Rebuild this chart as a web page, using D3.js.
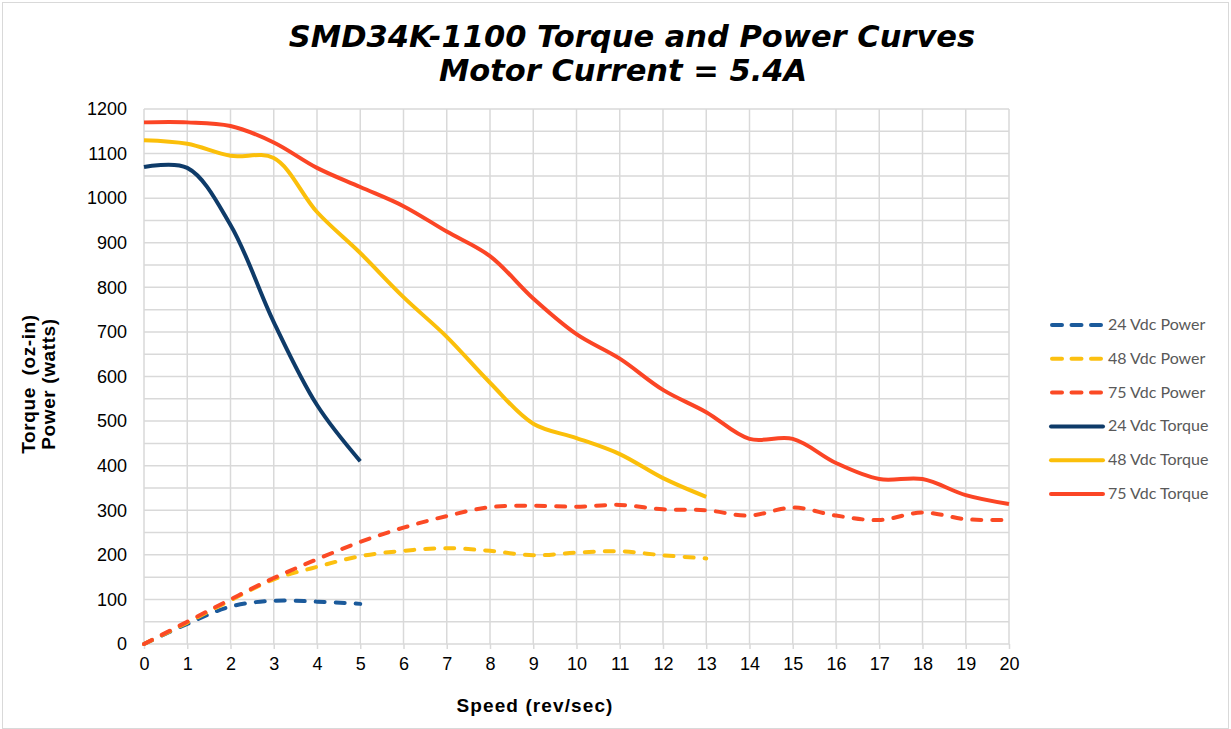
<!DOCTYPE html>
<html>
<head>
<meta charset="utf-8">
<script src="https://cdn.jsdelivr.net/npm/d3@7"></script>
<style>
body{margin:0;background:#fff;}
svg{display:block;}
</style>
</head>
<body>
<svg width="1231" height="729"></svg>
<script>
// speeds (rev/sec)
var speed=[0,1,2,3,4,5,6,7,8,9,10,11,12,13,14,15,16,17,18,19,20];

// values
var power24=[0,45,84,97,95,90];
var power48=[0,48,98,145,173,197,209,215,209,199,205,208,199,192];
var power75=[0,50,100,148,190,229,261,287,307,310,308,312,302,300,288,306,288,278,295,280,278];
var torque24=[1070,1068,940,722,536,410];
var torque48=[1130,1122,1095,1090,969,877,778,689,586,494,462,426,372,330];
var torque75=[1170,1170,1162,1125,1068,1025,982,925,870,775,695,640,570,520,460,460,406,370,370,334,314];

var seriesNames=['24 Vdc Power','48 Vdc Power','75 Vdc Power','24 Vdc Torque','48 Vdc Torque','75 Vdc Torque'];
var seriesValues=[power24,power48,power75,torque24,torque48,torque75];
var seriesColours=['#1b5a9b','#fcc010','#fb4a25','#0e3b69','#fbbf0a','#fb4525'];
var seriesDashed=[true,true,true,false,false,false];

var xTicks=d3.range(0,21,1);
var yTicks=d3.range(0,1201,100);

var svg=d3.select('svg');
var margin={left:144,top:109,right:1009,bottom:644};
var font='Liberation Sans, Arial, sans-serif';

// frame round the chart
svg.append('rect').attr('x',2.5).attr('y',2.5).attr('width',1226).attr('height',726)
	.attr('fill','none').attr('stroke','#d9d9d9').attr('stroke-width',1);

var x=d3.scaleLinear().domain([0,20]).range([margin.left,margin.right]);
var y=d3.scaleLinear().domain([0,1200]).range([margin.bottom,margin.top]);

// grid, minor every 50 on y
var grid=svg.append('g').attr('class','grid');
grid.selectAll('.hg').data(d3.range(0,1201,50)).enter().append('line')
	.attr('x1',margin.left).attr('x2',margin.right)
	.attr('y1',function(d){return y(d);}).attr('y2',function(d){return y(d);})
	.attr('stroke','#d9d9d9').attr('stroke-width',1.5);
grid.selectAll('.vg').data(xTicks).enter().append('line')
	.attr('y1',margin.top).attr('y2',margin.bottom)
	.attr('x1',function(d){return x(d);}).attr('x2',function(d){return x(d);})
	.attr('stroke','#d9d9d9').attr('stroke-width',1.5);

// axes
var xAxis=svg.append('g').attr('transform','translate(0,'+margin.bottom+')')
	.call(d3.axisBottom(x).tickValues(xTicks).tickSize(5).tickPadding(8));
var yAxis=svg.append('g').attr('transform','translate('+margin.left+',0)')
	.call(d3.axisLeft(y).tickValues(yTicks).tickFormat(d3.format('d')).tickSize(0).tickPadding(17));
[xAxis,yAxis].forEach(function(a)
{
	a.select('.domain').remove();
	a.selectAll('line').attr('stroke','#d9d9d9').attr('stroke-width',1.5);
	a.selectAll('text').attr('font-family',font).attr('font-size',18).attr('fill','#000');
});

// curves
var line=d3.line()
	.x(function(d,i){return x(speed[i]);})
	.y(function(d){return y(d);})
	.curve(d3.curveCatmullRom.alpha(0.5));

var plot=svg.append('g').attr('class','curves');
for(var i=0;i<seriesValues.length;i++)
{
	plot.append('path').datum(seriesValues[i])
		.attr('d',line)
		.attr('fill','none')
		.attr('stroke',seriesColours[i])
		.attr('stroke-width',4)
		.attr('stroke-linecap',seriesDashed[i]?'round':'butt')
		.attr('stroke-dasharray',seriesDashed[i]?'9,11':null);
}

// titles
var title=svg.append('g').attr('font-family','DejaVu Sans, sans-serif')
	.attr('font-weight','bold').attr('font-style','italic').attr('font-size',30.5)
	.attr('text-anchor','middle').attr('fill','#000');
title.append('text').attr('x',632).attr('y',47).text('SMD34K-1100 Torque and Power Curves');
title.append('text').attr('x',623).attr('y',81).text('Motor Current = 5.4A');

svg.append('text').attr('x',535).attr('y',712).attr('text-anchor','middle')
	.attr('font-family',font).attr('font-weight','bold')
	.attr('font-size',19).attr('letter-spacing',1.1).text('Speed (rev/sec)');

var ylab=svg.append('g').attr('transform','translate(0,384) rotate(-90)')
	.attr('font-family',font).attr('font-weight','bold')
	.attr('font-size',19).attr('letter-spacing',0.6).attr('text-anchor','middle');
ylab.append('text').attr('x',0).attr('y',35).attr('xml:space','preserve').text('Torque  (oz-in)');
ylab.append('text').attr('x',0).attr('y',55).text('Power (watts)');

// legend
var legend=svg.append('g').attr('class','legend');
var legY=d3.scalePoint().domain(seriesNames).range([325,494]);
seriesNames.forEach(function(n,i)
{
	var gy=legY(n);
	legend.append('line').attr('x1',seriesDashed[i]?1052:1051).attr('x2',seriesDashed[i]?1101:1103)
		.attr('y1',gy).attr('y2',gy)
		.attr('stroke',seriesColours[i]).attr('stroke-width',4)
		.attr('stroke-linecap','round')
		.attr('stroke-dasharray',seriesDashed[i]?'10,9.5':null);
	legend.append('text').attr('x',1108).attr('y',gy+5)
		.attr('font-family','Lato, Open Sans, sans-serif').attr('font-size',16)
		.attr('fill','#595959').text(n);
});
</script>
</body>
</html>
